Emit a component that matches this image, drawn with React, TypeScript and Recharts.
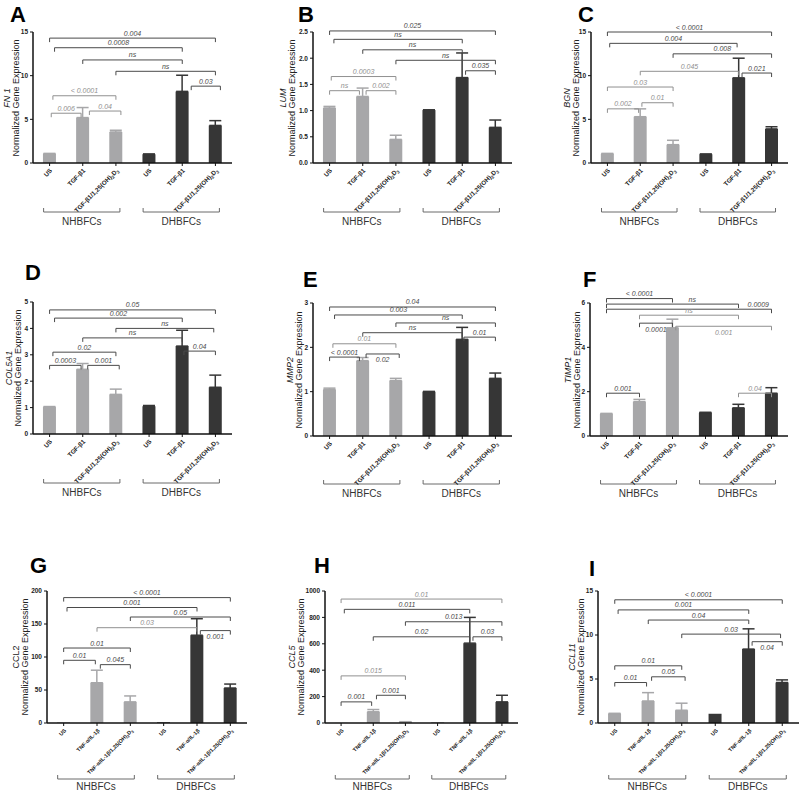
import React from 'react';
import { BarChart, Bar, XAxis, YAxis, ErrorBar, Cell, ReferenceLine } from 'recharts';

const FONT = '"Liberation Sans", Arial, Helvetica, sans-serif';
const LIGHT = '#a7a7a9';
const DARK = '#363636';
const BR_DARK = '#4a4a4a';
const BR_LIGHT = '#909090';

const groupNames = ['NHBFCs', 'DHBFCs'];
const tgfLabels = ['US', 'TGF-β1', 'TGF-β1/1,25(OH)_2D_3', 'US', 'TGF-β1', 'TGF-β1/1,25(OH)_2D_3'];
const tnfLabels = ['US', 'TNF-α/IL-1β', 'TNF-α/IL-1β/1,25(OH)_2D_3', 'US', 'TNF-α/IL-1β', 'TNF-α/IL-1β/1,25(OH)_2D_3'];

// values and upward SEM
const fn1Values = [1.05, 5.2, 3.55, 1.0, 8.2, 4.3];
const fn1Errors = [0.05, 1.15, 0.2, 0.03, 1.85, 0.55];
const lumValues = [1.05, 1.27, 0.45, 1.01, 1.63, 0.68];
const lumErrors = [0.03, 0.16, 0.08, 0.005, 0.47, 0.14];
const bgnValues = [1.05, 5.3, 2.1, 1.0, 9.75, 3.9];
const bgnErrors = [0.05, 0.9, 0.5, 0.03, 2.25, 0.25];
const col5a1Values = [1.02, 2.45, 1.5, 1.05, 3.33, 1.77];
const col5a1Errors = [0.02, 0.22, 0.2, 0.03, 0.6, 0.46];
const mmp2Values = [1.05, 1.7, 1.25, 1.0, 2.18, 1.3];
const mmp2Errors = [0.03, 0.07, 0.05, 0.005, 0.27, 0.12];
const timp1Values = [1.0, 1.55, 4.88, 1.05, 1.27, 1.93];
const timp1Errors = [0.02, 0.1, 0.39, 0.02, 0.16, 0.25];
const ccl2Values = [1, 61, 32, 1, 133, 53];
const ccl2Errors = [0, 19, 9, 0, 25, 6];
const ccl5Values = [1, 85, 8, 3, 605, 160];
const ccl5Errors = [0, 17, 2, 0, 195, 50];
const ccl11Values = [1.05, 2.5, 1.45, 1.05, 8.4, 4.6];
const ccl11Errors = [0.05, 0.95, 0.8, 0, 2.3, 0.3];

// y-axis ticks
const ticks15 = [0, 5, 10, 15];
const ticksLum = [0, 0.5, 1, 1.5, 2, 2.5];
const ticks5 = [0, 1, 2, 3, 4, 5];
const ticks3 = [0, 1, 2, 3];
const ticks6 = [0, 2, 4, 6];
const ticks200 = [0, 50, 100, 150, 200];
const ticks1000 = [0, 200, 400, 600, 800, 1000];

// brackets: [from, to, y, p-value text, tone (d/l), text above/below, text dx]
type Bracket = [number, number, number, string, string, string?, number?];
const fn1Brackets: Bracket[] = [
  [0, 5, 14.3, '0.004', 'd'],
  [0.15, 4, 13.2, '0.0008', 'd'],
  [1, 4, 11.8, 'ns', 'd'],
  [2, 5, 10.5, 'ns', 'd'],
  [4.27, 5.15, 8.8, '0.03', 'd'],
  [0.1, 2, 7.7, '< 0.0001', 'l'],
  [0.05, 0.95, 5.7, '0.006', 'l'],
  [1.2, 2.15, 5.95, '0.04', 'l'],
];
const lumBrackets: Bracket[] = [
  [0, 5, 2.52, '0.025', 'd'],
  [0.13, 4, 2.36, 'ns', 'd'],
  [1, 4, 2.16, 'ns', 'd'],
  [2, 5, 1.96, 'ns', 'd'],
  [4.1, 5, 1.76, '0.035', 'd'],
  [0.05, 2, 1.65, '0.0003', 'l'],
  [0, 0.9, 1.38, 'ns', 'l'],
  [1.1, 2, 1.38, '0.002', 'l'],
];
const bgnBrackets: Bracket[] = [
  [0, 5, 15.0, '< 0.0001', 'd'],
  [0.07, 3.95, 13.7, '0.004', 'd'],
  [2, 5, 12.5, '0.008', 'd'],
  [1, 4, 10.5, '0.045', 'l'],
  [4.1, 5, 10.3, '0.021', 'd'],
  [0, 2, 8.7, '0.03', 'l'],
  [0, 0.95, 6.2, '0.002', 'l'],
  [1.05, 2, 6.9, '0.01', 'l'],
];
const col5a1Brackets: Bracket[] = [
  [0, 5, 4.7, '0.05', 'd'],
  [0.15, 4, 4.39, '0.002', 'd'],
  [2, 4.95, 4.0, 'ns', 'd'],
  [1, 4, 3.64, 'ns', 'd'],
  [4.05, 5, 3.14, '0.04', 'd'],
  [0.1, 2, 3.1, '0.02', 'd'],
  [0, 0.95, 2.6, '0.0003', 'd'],
  [1.15, 2.1, 2.6, '0.001', 'd'],
];
const mmp2Brackets: Bracket[] = [
  [0, 5, 2.91, '0.04', 'd'],
  [0.15, 4, 2.73, '0.003', 'd'],
  [2, 5, 2.55, 'ns', 'd'],
  [1, 4, 2.33, 'ns', 'd'],
  [4.05, 5, 2.23, '0.01', 'd'],
  [0.1, 2, 2.08, '0.01', 'l'],
  [0, 0.9, 1.78, '< 0.0001', 'd'],
  [1.1, 2.1, 1.85, '0.02', 'd', 'b'],
];
const timp1Brackets: Bracket[] = [
  [0, 2, 6.2, '< 0.0001', 'd'],
  [0, 4, 5.95, 'ns', 'd', 'a', 0.6],
  [0, 5, 5.72, '0.0009', 'd', 'a', 2.1],
  [1, 4, 5.45, 'ns', 'l'],
  [1, 2, 5.09, '0.0001', 'd', 'b'],
  [2.1, 5, 4.95, '0.001', 'l', 'b'],
  [0, 1, 1.93, '0.001', 'd'],
  [4, 5, 1.93, '0.04', 'l'],
];
const ccl2Brackets: Bracket[] = [
  [0, 5, 190, '< 0.0001', 'd'],
  [0.1, 4, 175, '0.001', 'd'],
  [2, 5, 160.6, '0.05', 'd'],
  [1, 4, 144.4, '0.03', 'l'],
  [4.1, 5, 140, '0.001', 'd', 'b'],
  [0, 2, 113.6, '0.01', 'd'],
  [0, 0.95, 95, '0.01', 'd'],
  [1.1, 2, 88.4, '0.045', 'd'],
];
const ccl5Brackets: Bracket[] = [
  [0, 5, 939, '0.01', 'l'],
  [0.1, 4, 861, '0.011', 'd'],
  [2, 5, 767, '0.013', 'd'],
  [1, 4, 653, '0.02', 'd'],
  [4.1, 5, 653, '0.03', 'd'],
  [0, 2, 357, '0.015', 'l'],
  [0, 0.95, 160, '0.001', 'd'],
  [1.1, 2, 210, '0.001', 'd'],
];
const ccl11Brackets: Bracket[] = [
  [0, 5, 14.0, '< 0.0001', 'd'],
  [0.1, 4, 12.85, '0.001', 'd'],
  [1, 4, 11.7, '0.04', 'd'],
  [2, 4.95, 10.1, '0.03', 'd'],
  [4.1, 5, 9.24, '0.04', 'd', 'b'],
  [0, 2, 6.5, '0.01', 'd'],
  [1.1, 2.1, 5.25, '0.05', 'd'],
  [0, 0.95, 4.6, '0.01', 'd'],
];

type PanelCfg = {
  letter: string; lx: number; ly: number;
  L: number; T: number; W: number; H: number;
  x0: number; x1: number; yTop: number; y0: number;
  max: number; ticks: number[]; dec: number;
  values: number[]; errors: number[]; labels: string[]; brackets: Bracket[];
  gene: string; italic: boolean; titleCx: number; groupOffset: number; groupTextDy: number; labelFont: number;
};

const panels: PanelCfg[] = [
  { letter: 'A', lx: 10, ly: 4, L: 0, T: 0, W: 262, H: 240, x0: 33, x1: 232, yTop: 32, y0: 163, max: 15, ticks: ticks15, dec: 0, values: fn1Values, errors: fn1Errors, labels: tgfLabels, brackets: fn1Brackets, gene: 'FN 1', italic: true, titleCx: 12, groupOffset: 49, groupTextDy: 13, labelFont: 6.3 },
  { letter: 'B', lx: 298, ly: 4, L: 265, T: 0, W: 262, H: 240, x0: 313, x1: 512, yTop: 32, y0: 163, max: 2.5, ticks: ticksLum, dec: 1, values: lumValues, errors: lumErrors, labels: tgfLabels, brackets: lumBrackets, gene: 'LUM', italic: true, titleCx: 288, groupOffset: 49, groupTextDy: 13, labelFont: 6.3 },
  { letter: 'C', lx: 578, ly: 4, L: 530, T: 0, W: 270, H: 240, x0: 591, x1: 788, yTop: 32, y0: 163, max: 15, ticks: ticks15, dec: 0, values: bgnValues, errors: bgnErrors, labels: tgfLabels, brackets: bgnBrackets, gene: 'BGN', italic: true, titleCx: 572, groupOffset: 49, groupTextDy: 13, labelFont: 6.3 },
  { letter: 'D', lx: 25, ly: 262, L: 0, T: 260, W: 262, H: 240, x0: 33, x1: 232, yTop: 302, y0: 434, max: 5, ticks: ticks5, dec: 0, values: col5a1Values, errors: col5a1Errors, labels: tgfLabels, brackets: col5a1Brackets, gene: 'COL5A1', italic: true, titleCx: 14, groupOffset: 49, groupTextDy: 13, labelFont: 6.3 },
  { letter: 'E', lx: 303, ly: 269, L: 265, T: 260, W: 262, H: 240, x0: 313, x1: 512, yTop: 303, y0: 436, max: 3, ticks: ticks3, dec: 0, values: mmp2Values, errors: mmp2Errors, labels: tgfLabels, brackets: mmp2Brackets, gene: 'MMP2', italic: true, titleCx: 295, groupOffset: 48, groupTextDy: 13, labelFont: 6.3 },
  { letter: 'F', lx: 583, ly: 269, L: 530, T: 260, W: 270, H: 240, x0: 590, x1: 788, yTop: 303, y0: 436, max: 6, ticks: ticks6, dec: 0, values: timp1Values, errors: timp1Errors, labels: tgfLabels, brackets: timp1Brackets, gene: 'TIMP1', italic: true, titleCx: 573, groupOffset: 48, groupTextDy: 13, labelFont: 6.3 },
  { letter: 'G', lx: 30, ly: 555, L: 0, T: 520, W: 262, H: 273, x0: 47, x1: 247, yTop: 591, y0: 723, max: 200, ticks: ticks200, dec: 0, values: ccl2Values, errors: ccl2Errors, labels: tnfLabels, brackets: ccl2Brackets, gene: 'CCL2', italic: false, titleCx: 21, groupOffset: 56, groupTextDy: 11, labelFont: 5.4 },
  { letter: 'H', lx: 314, ly: 555, L: 265, T: 520, W: 265, H: 273, x0: 325, x1: 518, yTop: 591, y0: 723, max: 1000, ticks: ticks1000, dec: 0, values: ccl5Values, errors: ccl5Errors, labels: tnfLabels, brackets: ccl5Brackets, gene: 'CCL5', italic: true, titleCx: 297, groupOffset: 56, groupTextDy: 11, labelFont: 5.4 },
  { letter: 'I', lx: 589, ly: 558, L: 530, T: 520, W: 270, H: 273, x0: 598, x1: 799, yTop: 591, y0: 723, max: 15, ticks: ticks15, dec: 0, values: ccl11Values, errors: ccl11Errors, labels: tnfLabels, brackets: ccl11Brackets, gene: 'CCL11', italic: true, titleCx: 577, groupOffset: 56, groupTextDy: 11, labelFont: 5.4 },
];

function labelSpans(label: string, fs: number) {
  const parts = label.split(/(_\d)/).filter(Boolean);
  let shifted = false;
  const sh = fs * 0.25;
  return parts.map((p, k) => {
    if (p.startsWith('_')) {
      const el = <tspan key={k} dy={shifted ? 0 : sh} fontSize={fs * 0.72}>{p.slice(1)}</tspan>;
      shifted = true;
      return el;
    }
    const el = <tspan key={k} dy={shifted ? -sh : 0}>{p}</tspan>;
    shifted = false;
    return el;
  });
}

function XTick(props: any) {
  const { x, y, index, labels, band, groupOffset, groupTextDy, labelFont } = props;
  const label: string = labels[index] ?? '';
  const gy = y - 5 + groupOffset;
  let group = null;
  if (index === 1 || index === 4) {
    const left = x - band * 1.18;
    const right = x + band * 1.12;
    group = (
      <g>
        <path d={`M${left},${gy - 4}L${left},${gy}L${right},${gy}L${right},${gy - 4}`} stroke="#6a6a6a" strokeWidth={1} fill="none" />
        <text x={(left + right) / 2} y={gy + groupTextDy} textAnchor="middle" fontSize={10} fill="#333" fontFamily={FONT}>
          {groupNames[index === 1 ? 0 : 1]}
        </text>
      </g>
    );
  }
  return (
    <g>
      <text
        transform={`translate(${x + 3},${y + 3}) rotate(-45)`}
        textAnchor="end"
        fontSize={labelFont}
        fontWeight={700}
        fill="#222"
        fontFamily={FONT}
      >
        {labelSpans(label, labelFont)}
      </text>
      {group}
    </g>
  );
}

function bracketShape(b: Bracket, band: number) {
  const [, , , text, tone, pos, dx] = b;
  const color = tone === 'l' ? BR_LIGHT : BR_DARK;
  return (props: any) => {
    const { x1, y1, x2 } = props;
    if (x1 == null || y1 == null) return <g />;
    const cx = (x1 + x2) / 2 + (dx || 0) * band;
    const ty = pos === 'b' ? y1 + 8.5 : y1 - 2.5;
    return (
      <g>
        <path d={`M${x1},${y1 + 4}L${x1},${y1}L${x2},${y1}L${x2},${y1 + 4}`} stroke={color} strokeWidth={1} fill="none" />
        <text x={cx} y={ty} textAnchor="middle" fontSize={7} fontStyle="italic" fill={color} fontFamily={FONT}>
          {text}
        </text>
      </g>
    );
  };
}

function Panel({ cfg }: { cfg: PanelCfg }) {
  const { L, T, W, H, x0, x1, yTop, y0 } = cfg;
  const data = cfg.values.map((v, i) => ({
    k: 'c' + i,
    i,
    v,
    eN: i < 3 && cfg.errors[i] > 0 ? [0, cfg.errors[i]] : null,
    eD: i >= 3 && cfg.errors[i] > 0 ? [0, cfg.errors[i]] : null,
  }));
  const YW = 20;
  const margin = { top: yTop - T, right: L + W - x1, left: x0 - L - YW, bottom: 0 };
  const xH = H - (y0 - T);
  const band = (x1 - x0) / 6;
  const titleCy = (yTop + y0) / 2;
  return (
    <>
      <div style={{ position: 'absolute', left: L, top: T, width: W, height: H }}>
        <BarChart width={W} height={H} data={data} margin={margin} barCategoryGap="30%">
          <XAxis
            xAxisId="c"
            dataKey="k"
            height={xH}
            interval={0}
            tickSize={3}
            axisLine={{ stroke: '#111', strokeWidth: 1.5 }}
            tickLine={{ stroke: '#111', strokeWidth: 1 }}
            tick={(p: any) => (
              <XTick {...p} labels={cfg.labels} band={band} groupOffset={cfg.groupOffset} groupTextDy={cfg.groupTextDy} labelFont={cfg.labelFont} />
            )}
          />
          <XAxis xAxisId="n" dataKey="i" type="number" domain={[-0.5, 5.5]} allowDataOverflow hide />
          <YAxis
            yAxisId="y"
            width={YW}
            domain={[0, cfg.max]}
            ticks={cfg.ticks}
            allowDataOverflow
            interval={0}
            tickSize={3}
            tickFormatter={(t: number) => t.toFixed(cfg.dec)}
            axisLine={{ stroke: '#111', strokeWidth: 1.5 }}
            tickLine={{ stroke: '#111', strokeWidth: 1 }}
            tick={{ fontSize: 6.5, fontWeight: 700, fill: '#222', fontFamily: FONT }}
          />
          <Bar xAxisId="c" yAxisId="y" dataKey="v" isAnimationActive={false}>
            {data.map((d, i) => (
              <Cell key={i} fill={i < 3 ? LIGHT : DARK} />
            ))}
            <ErrorBar dataKey="eN" width={6} stroke={LIGHT} strokeWidth={1.5} direction="y" />
            <ErrorBar dataKey="eD" width={6} stroke={DARK} strokeWidth={1.5} direction="y" />
          </Bar>
          {cfg.brackets.map((b, j) => (
            <ReferenceLine
              key={j}
              xAxisId="n"
              yAxisId="y"
              ifOverflow="visible"
              segment={[{ x: b[0], y: b[2] }, { x: b[1], y: b[2] }]}
              shape={bracketShape(b, band)}
            />
          ))}
        </BarChart>
      </div>
      <div
        style={{
          position: 'absolute',
          left: cfg.titleCx - 80,
          top: titleCy - 9,
          width: 160,
          height: 18,
          transform: 'rotate(-90deg)',
          transformOrigin: 'center',
          textAlign: 'center',
          fontFamily: FONT,
          fontSize: 9,
          lineHeight: '9px',
          color: '#222',
          whiteSpace: 'nowrap',
        }}
      >
        <div style={{ fontStyle: cfg.italic ? 'italic' : 'normal' }}>{cfg.gene}</div>
        <div>Normalized Gene Expression</div>
      </div>
      <div
        style={{
          position: 'absolute',
          left: cfg.lx,
          top: cfg.ly,
          fontFamily: FONT,
          fontWeight: 700,
          fontSize: 22,
          lineHeight: '22px',
          color: '#000',
        }}
      >
        {cfg.letter}
      </div>
    </>
  );
}

export default function App() {
  return (
    <div style={{ position: 'absolute', left: 0, top: 0, width: 800, height: 793, overflow: 'hidden', background: '#fff' }}>
      {panels.map((p) => (
        <Panel key={p.letter} cfg={p} />
      ))}
    </div>
  );
}
